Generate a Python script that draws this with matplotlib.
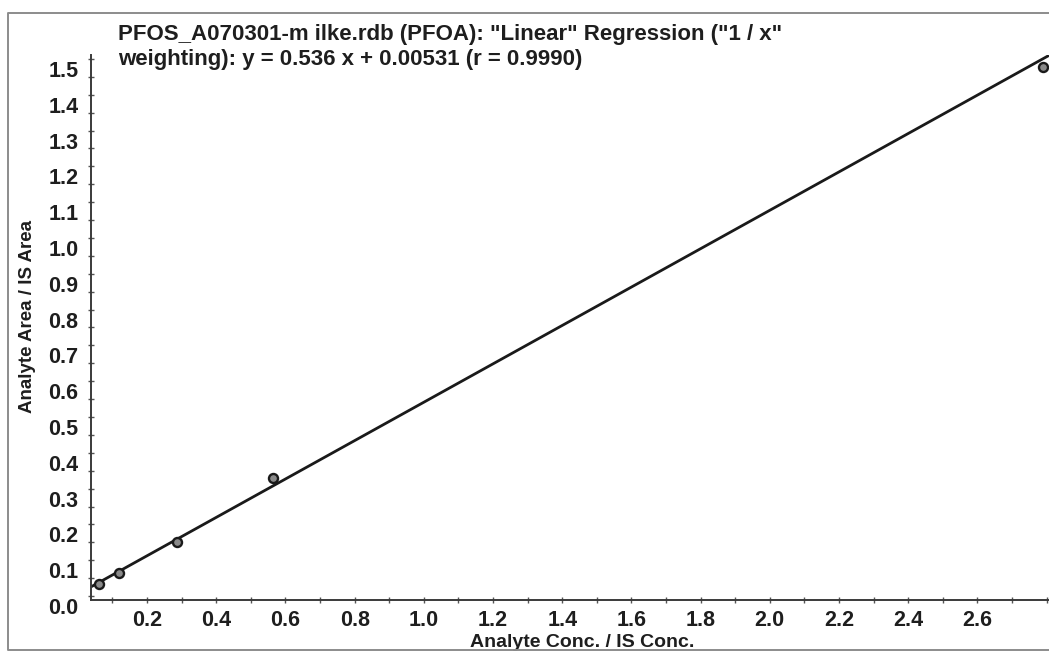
import matplotlib as mpl
mpl.use('Agg')
import matplotlib.pyplot as plt
import matplotlib.transforms as mtransforms
from matplotlib.lines import Line2D
import numpy as np

# calibration standards (analyte/IS conc. vs analyte/IS area)
conc = [0.062, 0.119, 0.286, 0.563, 2.790]
area_ratio = [0.033, 0.065, 0.150, 0.329, 1.477]

# regression result
slope = 0.536
intercept = 0.00531
r_value = 0.9990

xticks = [0.2, 0.4, 0.6, 0.8, 1.0, 1.2, 1.4, 1.6, 1.8, 2.0, 2.2, 2.4, 2.6]
yticks = [0.0, 0.1, 0.2, 0.3, 0.4, 0.5, 0.6, 0.7, 0.8, 0.9, 1.0,
          1.1, 1.2, 1.3, 1.4, 1.5]

title1 = 'PFOS_A070301-m ilke.rdb (PFOA): "Linear" Regression ("1 / x"'
title2 = 'weighting): y = %.3f x + %.5f (r = %.4f)' % (slope, intercept, r_value)

plt.rcParams['font.family'] = ['Liberation Sans', 'DejaVu Sans']
plt.rcParams['font.weight'] = 'bold'

W, H = 1049, 652
fig = plt.figure(figsize=(W / 100.0, H / 100.0), dpi=100)
fig.patch.set_facecolor('white')

# axes box in pixels: left spine x=91, bottom y=600, top y=55
ax = fig.add_axes([91.0 / W, (H - 600.0) / H, 1.0 - 91.0 / W, 545.0 / H])
ax.set_xlim(0.038, 2.807)
ax.set_ylim(-0.011, 1.511)

xfit = np.array(ax.get_xlim())
ax.plot(xfit, slope * xfit + intercept, color='#1a1a1a', lw=2.0,
        solid_capstyle='butt')
ax.plot(conc, area_ratio, 'o', ms=6.5, mfc='#8a8a8a', mec='#1a1a1a', mew=1.7)

for side in ['top', 'right']:
    ax.spines[side].set_visible(False)
for side in ['left', 'bottom']:
    ax.spines[side].set_color('#3a3a3a')
    ax.spines[side].set_linewidth(1.4)

ax.set_xticks(xticks)
ax.set_xticklabels(['%.1f' % v for v in xticks])
ax.set_xticks(np.arange(0.1, 2.81, 0.1), minor=True)
ax.set_yticks(yticks)
ax.set_yticklabels(['%.1f' % v for v in yticks])
ax.set_yticks(np.arange(0.05, 1.51, 0.1), minor=True)

ax.tick_params(which='both', direction='inout', length=4, width=1,
               color='#555555')
ax.tick_params(axis='both', which='major', labelsize=15.5,
               labelcolor='#1e1e1e')
ax.tick_params(axis='x', pad=5)
ax.tick_params(axis='y', pad=7)

# the y labels sit a little below their tick marks
offset = mtransforms.ScaledTranslation(0, -0.10, fig.dpi_scale_trans)
for tick in ax.yaxis.get_major_ticks():
    tick.label1.set_transform(tick.label1.get_transform() + offset)
    tick.label1.set_fontweight('bold')
for tick in ax.xaxis.get_major_ticks():
    tick.label1.set_fontweight('bold')

ax.set_xlabel('Analyte Conc. / IS Conc.', fontsize=14, fontweight='bold',
              color='#1e1e1e', va='top')
ax.xaxis.set_label_coords((582.0 - 91) / 958.0, -0.062)
ax.set_ylabel('Analyte Area / IS Area', fontsize=13.5, fontweight='bold',
              color='#1e1e1e')
ax.yaxis.set_label_coords((36.0 - 91) / 958.0, 0.52)

fig.text(118.0 / W, (H - 40.0) / H, title1, fontsize=16, fontweight='bold',
         color='#1e1e1e', va='baseline', ha='left')
fig.text(118.0 / W, (H - 65.0) / H, title2, fontsize=16, fontweight='bold',
         color='#1e1e1e', va='baseline', ha='left')

# page frame around the plot
frame_x = [W + 5.0, 8.0, 8.0, W + 5.0]
frame_y = [13.0, 13.0, 650.0, 650.0]
fig.add_artist(Line2D([x / W for x in frame_x], [1 - y / H for y in frame_y],
                      transform=fig.transFigure, color='#8c8c8c', lw=1.4))

fig.savefig('out.png', dpi=100)
